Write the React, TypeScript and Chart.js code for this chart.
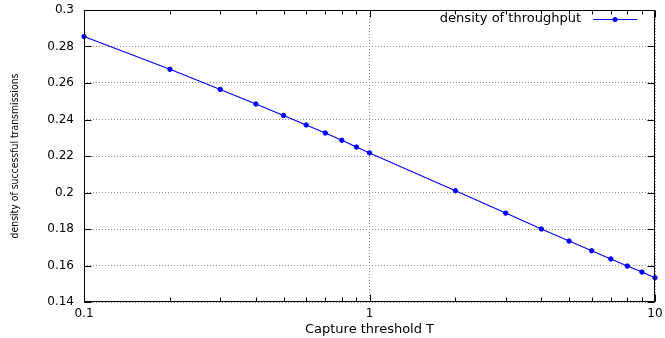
import React, { useEffect, useRef } from "react";
import { Chart, registerables } from "chart.js";

Chart.register(...registerables);

// ---- data ----
const thresholds = [0.1, 0.2, 0.3, 0.4, 0.5, 0.6, 0.7, 0.8, 0.9, 1, 2, 3, 4, 5, 6, 7, 8, 9, 10];
const throughput = [
  0.2855, 0.2675, 0.2565, 0.2485, 0.2422, 0.237, 0.2326, 0.2286, 0.2249, 0.2217,
  0.201, 0.1887, 0.18, 0.1734, 0.1681, 0.1636, 0.1597, 0.1564, 0.1533,
];
const xMajorTicks = [0.1, 1, 10];
const xMinorTicks = [0.2, 0.3, 0.4, 0.5, 0.6, 0.7, 0.8, 0.9, 2, 3, 4, 5, 6, 7, 8, 9];
const yMin = 0.14;
const yMax = 0.3;
const yStep = 0.02;
const seriesLabel = "density of throughput";
const xTitle = "Capture threshold T";
const yTitle = "density of successful transmissions";

const LINE_COLOR = "#0000ff";
const GRID_COLOR = "#8c8c8c";
const FONT = "'DejaVu Sans', sans-serif";

// pick a narrow font if installed and size it to the reference length
function pickYTitleFont(): { family: string; size: number } {
  const c = document.createElement("canvas").getContext("2d")!;
  const has = (name: string) => {
    c.font = `40px '${name}', monospace`;
    const a = c.measureText("density of mwil").width;
    c.font = `40px '${name}', serif`;
    const b = c.measureText("density of mwil").width;
    return Math.abs(a - b) < 0.01;
  };
  const candidates = ["Liberation Sans Narrow", "DejaVu Sans Condensed", "Liberation Sans"];
  const fam = candidates.find(has) || "sans-serif";
  const family = fam === "sans-serif" ? fam : `'${fam}', sans-serif`;
  c.font = `100px ${family}`;
  const w = c.measureText(yTitle).width;
  const size = Math.min(14, (165 / w) * 100);
  return { family, size };
}

const framePlugin = {
  id: "frame",
  afterDraw(chart: any) {
    const { ctx, chartArea, scales } = chart;
    const { left, right, top, bottom } = chartArea;
    const xs = scales.x;
    const ys = scales.y;
    ctx.save();
    ctx.setLineDash([]);
    ctx.strokeStyle = "#000";
    ctx.lineWidth = 1;
    const L = Math.round(left) + 0.5;
    const R = Math.round(right) - 0.5;
    const T = Math.round(top) + 0.5;
    const B = Math.round(bottom) - 0.5;
    ctx.beginPath();
    ctx.rect(L, T, R - L, B - T);
    const xTick = (v: number, len: number) => {
      const px = Math.round(xs.getPixelForValue(v)) + 0.5;
      ctx.moveTo(px, B);
      ctx.lineTo(px, B - len);
      ctx.moveTo(px, T);
      ctx.lineTo(px, T + len);
    };
    xMajorTicks.forEach((v) => xTick(v, 7));
    xMinorTicks.forEach((v) => xTick(v, 4));
    ys.ticks.forEach((t: any) => {
      const py = Math.round(ys.getPixelForValue(t.value)) + 0.5;
      ctx.moveTo(L, py);
      ctx.lineTo(L + 7, py);
      ctx.moveTo(R, py);
      ctx.lineTo(R - 7, py);
    });
    ctx.stroke();
    ctx.restore();
  },
};

// key drawn inside the plot, top-right: label text then line sample with a marker
const keyPlugin = {
  id: "insideKey",
  afterDraw(chart: any) {
    const { ctx, chartArea } = chart;
    chart.data.datasets.forEach((ds: any, i: number) => {
      const y = Math.round(chartArea.top) + 9 + i * 16 + 0.5;
      const lineRight = Math.round(chartArea.right) - 18;
      const lineLeft = lineRight - 44;
      ctx.save();
      ctx.font = `13px ${FONT}`;
      ctx.fillStyle = "#000";
      ctx.textAlign = "right";
      ctx.textBaseline = "middle";
      ctx.fillText(ds.label, lineLeft - 12, y - 1);
      ctx.strokeStyle = ds.borderColor;
      ctx.lineWidth = ds.borderWidth;
      ctx.beginPath();
      ctx.moveTo(lineLeft, y);
      ctx.lineTo(lineRight, y);
      ctx.stroke();
      ctx.fillStyle = ds.pointBackgroundColor;
      ctx.beginPath();
      ctx.arc((lineLeft + lineRight) / 2, y, 2.5, 0, Math.PI * 2);
      ctx.fill();
      ctx.restore();
    });
  },
};

export default function App() {
  const canvasRef = useRef<HTMLCanvasElement | null>(null);

  useEffect(() => {
    const canvas = canvasRef.current;
    if (!canvas) return;

    const yTitleFont = pickYTitleFont();
    const points = thresholds.map((t, i) => ({ x: t, y: throughput[i] }));

    const chart = new Chart(canvas, {
      type: "line",
      data: {
        datasets: [
          {
            label: seriesLabel,
            data: points,
            borderColor: LINE_COLOR,
            backgroundColor: LINE_COLOR,
            borderWidth: 1.1,
            pointRadius: 2.2,
            pointBorderWidth: 1,
            pointBackgroundColor: LINE_COLOR,
            pointBorderColor: LINE_COLOR,
            tension: 0,
            clip: 6,
          },
        ],
      },
      options: {
        responsive: false,
        animation: false,
        devicePixelRatio: 1,
        layout: { padding: { left: 0, right: 10, top: 10, bottom: 0 } },
        plugins: {
          tooltip: { enabled: false },
          legend: { display: false },
        },
        scales: {
          x: {
            type: "logarithmic",
            position: "bottom",
            min: 0.1,
            max: 10,
            afterBuildTicks: (s: any) => {
              s.ticks = xMajorTicks.map((v) => ({ value: v }));
            },
            afterFit: (s: any) => {
              s.height = 36;
              s.paddingLeft = 0;
              s.paddingRight = 0;
            },
            ticks: {
              color: "#000",
              font: { family: FONT, size: 12 },
              padding: 5,
              maxRotation: 0,
              autoSkip: false,
              callback: (v: any) => String(v),
            },
            grid: { color: GRID_COLOR, drawTicks: false, lineWidth: 1 },
            border: { display: false, dash: [1, 2] },
            title: {
              display: true,
              text: xTitle,
              color: "#000",
              font: { family: FONT, size: 13 },
              padding: { top: 4, bottom: 1 },
            },
          },
          y: {
            type: "linear",
            min: yMin,
            max: yMax,
            afterFit: (s: any) => {
              s.width = 84;
              s.paddingTop = 0;
              s.paddingBottom = 0;
            },
            ticks: {
              stepSize: yStep,
              color: "#000",
              font: { family: FONT, size: 12 },
              padding: 10,
              autoSkip: false,
              callback: (v: any) => String(parseFloat(Number(v).toFixed(2))),
            },
            grid: { color: GRID_COLOR, drawTicks: false, lineWidth: 1 },
            border: { display: false, dash: [1, 2] },
            title: {
              display: true,
              text: yTitle,
              color: "#000",
              font: { family: yTitleFont.family, size: yTitleFont.size },
              padding: { top: 9, bottom: 0 },
            },
          },
        },
      } as any,
      plugins: [framePlugin, keyPlugin],
    });

    return () => chart.destroy();
  }, []);

  return (
    <div style={{ position: "fixed", left: 0, top: 0, width: 665, height: 338, background: "#fff" }}>
      <canvas ref={canvasRef} width={665} height={338} style={{ display: "block" }} />
    </div>
  );
}
